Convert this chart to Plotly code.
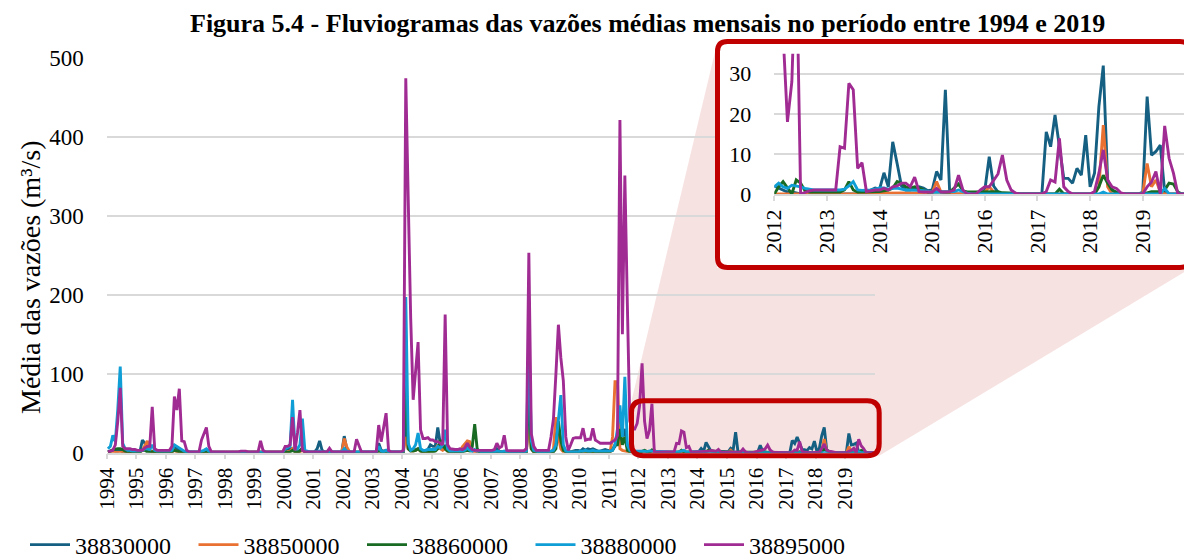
import numpy as np
import plotly.graph_objects as go

# The page body has an 8px margin, so the figure is made 8px smaller and all
# reference pixel positions are shifted by that offset.
PAGE_W, PAGE_H = 1192, 560
OX, OY = 8, 8
W, H = PAGE_W - OX, PAGE_H - OY
FONT = "Liberation Serif"

# ---------------- data (monthly mean flows, m3/s), Jan 1994 .. Dec 2019 ----------------
years = list(range(1994, 2020))
series_names = ["38830000", "38850000", "38860000", "38880000", "38895000"]
colors = ["#156082", "#E97132", "#196B24", "#0F9ED5", "#A02B93"]

q_38830000 = [
    1, 2, 3, 2, 2, 3, 1, 1, 1, 1, 1, 1,                      # 1994
    1, 1, 16, 12, 3, 2, 2, 1, 1, 1, 1, 1,                    # 1995
    1, 1, 3, 8, 5, 3, 1, 1, 0.5, 0.5, 0.5, 0.5,              # 1996
    0.5, 0.5, 0.5, 1, 2, 1, 0.5, 0.5, 0.3, 0.3, 0.3, 0.3,    # 1997
    0.3, 0.3, 0.3, 0.3, 0.3, 0.3, 0.3, 0.3, 0.3, 0.3, 0.3, 0.3,  # 1998
    0.3, 0.3, 0.3, 0.3, 0.3, 0.3, 0.3, 0.3, 0.3, 0.3, 0.3, 0.3,  # 1999
    3, 5, 5, 5, 2, 1, 3, 5, 1, 0.5, 0.5, 0.5,                # 2000
    1, 5, 15, 3, 1, 0.5, 0.5, 0.5, 0.5, 0.5, 0.5, 1,         # 2001
    21, 5, 1, 0.5, 0.5, 0.5, 0.5, 0.5, 0.5, 0.5, 0.5, 0.5,   # 2002
    0.5, 1, 12, 3, 2, 3, 1, 0.5, 0.5, 0.5, 0.5, 0.5,         # 2003
    1, 40, 5, 3, 3, 4, 5, 3, 2, 3, 4, 10,                    # 2004
    8, 8, 32, 12, 5, 8, 3, 2, 2, 2, 2, 2,                    # 2005
    2, 5, 12, 4, 2, 3, 1, 1, 1, 1, 1, 1,                     # 2006
    1, 1, 5, 2, 1, 1, 1, 0.5, 0.5, 0.5, 0.5, 0.5,            # 2007
    0.5, 1, 2, 60, 5, 1, 1, 1, 1, 1, 1, 1,                   # 2008
    1, 2, 10, 30, 15, 5, 2, 1, 1, 2, 3, 3,                   # 2009
    2, 5, 3, 5, 4, 5, 3, 2, 2, 3, 4, 3,                      # 2010
    3, 4, 8, 15, 40, 20, 30, 8, 3, 2, 2, 2,                  # 2011
    2, 1.5, 1, 0.5, 0.5, 0.3, 0, 0, 0, 0, 0, 0,              # 2012
    0, 0, 0, 0, 0, 0, 0, 0, 0, 0.5, 1, 1.5,                  # 2013
    1.2, 5.3, 1.8, 13, 7.6, 2, 1, 1, 1.5, 1.8, 1.5, 0.8,     # 2014
    1, 5.6, 3.5, 26, 0, 0, 0, 0, 0, 0, 0, 0,                 # 2015
    1, 9.3, 2, 0.5, 0, 0, 0, 0, 0, 0, 0, 0,                  # 2016
    0, 0, 15.5, 11.8, 19.7, 11.8, 3.9, 3.9, 2.7, 6.4, 4.7, 14.7,  # 2017
    1.8, 5.2, 21.8, 32, 3.5, 1, 0.5, 0, 0, 0, 0, 0,          # 2018
    0.5, 24.3, 9.7, 10.6, 12.2, 0.6, 0, 0, 0, 0, 0, 0,       # 2019
]

q_38850000 = [
    0.3, 0.3, 0.3, 0.3, 0.3, 0.3, 0.3, 0.3, 0.3, 0.3, 0.3, 0.3,  # 1994
    0.5, 0.5, 3, 10, 15, 3, 1, 0.5, 0.5, 0.5, 0.5, 0.5,          # 1995
    0.5, 0.5, 1, 3, 1, 0.5, 0.5, 0.3, 0.3, 0.3, 0.3, 0.3,        # 1996
    0.2, 0.2, 0.2, 0.2, 0.2, 0.2, 0.2, 0.2, 0.2, 0.2, 0.2, 0.2,  # 1997
    0.2, 0.2, 0.2, 0.2, 0.2, 0.2, 0.2, 0.2, 0.2, 0.2, 0.2, 0.2,  # 1998
    0.2, 0.2, 0.2, 0.2, 0.2, 0.2, 0.2, 0.2, 0.2, 0.2, 0.2, 0.2,  # 1999
    0.5, 1, 2, 5, 1, 0.5, 1, 3, 0.5, 0.3, 0.3, 0.3,              # 2000
    0.5, 0.5, 0.5, 0.5, 0.5, 0.5, 0.5, 0.5, 0.5, 0.5, 0.5, 0.5,  # 2001
    18, 7.6, 2, 0.5, 0.5, 0.5, 0.5, 0.5, 0.5, 0.5, 0.5, 0.5,     # 2002
    0.5, 0.5, 3, 1, 0.5, 1, 0.5, 0.5, 0.5, 0.5, 0.5, 0.5,        # 2003
    0.5, 20, 5, 2, 2, 3, 5, 2, 1, 1, 1, 2,                       # 2004
    2, 3, 10, 5, 3, 5, 2, 1, 1, 1, 1, 1,                         # 2005
    7.6, 12, 15, 14, 3, 1, 0.5, 0.5, 0.5, 0.5, 0.5, 0.5,         # 2006
    0.5, 0.5, 0.5, 0.5, 0.5, 0.5, 0.5, 0.5, 0.5, 0.5, 0.5, 0.5,  # 2007
    0.5, 0.5, 1, 40, 5, 1, 0.5, 0.5, 0.5, 0.5, 0.5, 0.5,         # 2008
    0.5, 5, 45, 20, 5, 1, 0.5, 0.5, 0.5, 0.5, 0.5, 0.5,          # 2009
    0.5, 0.5, 0.5, 0.5, 0.5, 0.5, 0.5, 0.5, 0.5, 0.5, 0.5, 0.5,  # 2010
    1, 20, 90, 90, 5, 3, 2, 1, 0.5, 0.5, 0.5, 0.3,               # 2011
    0, 0, 0, 0, 0, 0, 0, 0, 0, 0, 0, 0,                          # 2012
    0, 0, 0, 0, 0, 0, 0, 0, 0, 0, 0, 0,                          # 2013
    0.2, 0.2, 0.2, 0.2, 0.2, 0.2, 0.2, 0.2, 0.2, 0.2, 0.2, 0.2,  # 2014
    0.3, 3.1, 0.5, 0.3, 0, 0, 0, 0, 0, 0, 0, 0,                  # 2015
    0.5, 1.8, 0.5, 0, 0, 0, 0, 0, 0, 0, 0, 0,                    # 2016
    0, 0, 0, 0, 0, 0, 0, 0, 0, 0, 0, 0,                          # 2017
    0, 0, 1.8, 17.2, 1.8, 0, 0, 0, 0, 0, 0, 0,                   # 2018
    0, 7.6, 1.8, 3.5, 0.5, 0, 0, 0, 0, 0, 0, 0,                  # 2019
]

q_38860000 = [
    1, 2, 4, 5, 5, 5, 4, 2, 1, 1, 1, 1,                          # 1994
    1, 1, 3, 3, 1, 1, 1, 0.5, 0.5, 0.5, 0.5, 0.5,                # 1995
    0.5, 0.5, 1, 3, 2, 1, 0.5, 0.5, 0.3, 0.3, 0.3, 0.3,          # 1996
    0.3, 0.3, 0.3, 0.3, 0.3, 0.3, 0.3, 0.3, 0.3, 0.3, 0.3, 0.3,  # 1997
    0.3, 0.3, 0.3, 0.3, 0.3, 0.3, 0.3, 0.3, 0.3, 0.3, 0.3, 0.3,  # 1998
    0.3, 0.3, 0.3, 0.3, 0.3, 0.3, 0.3, 0.3, 0.3, 0.3, 0.3, 0.3,  # 1999
    0.5, 1, 1, 3, 1, 0.5, 2, 6, 1, 0.5, 0.5, 0.5,                # 2000
    0.5, 0.5, 0.5, 0.5, 0.5, 0.5, 0.5, 0.5, 0.5, 0.5, 0.5, 0.5,  # 2001
    1, 1, 0.5, 0.5, 0.5, 0.5, 0.5, 0.5, 0.5, 0.5, 0.5, 0.5,      # 2002
    0.5, 0.5, 2, 1, 0.5, 1, 0.5, 0.5, 0.5, 0.5, 0.5, 0.5,        # 2003
    0.5, 90, 5, 2, 2, 3, 5, 2, 1, 1, 1, 1,                       # 2004
    1, 2, 5, 16, 10, 5, 2, 1, 1, 1, 1, 1,                        # 2005
    1, 2, 3, 2, 7.6, 36, 5, 1, 0.5, 0.5, 0.5, 0.5,               # 2006
    0.5, 0.5, 0.5, 0.5, 0.5, 0.5, 0.5, 0.5, 0.5, 0.5, 0.5, 0.5,  # 2007
    0.5, 0.5, 1, 80, 5, 1, 0.5, 0.5, 0.5, 0.5, 0.5, 0.5,         # 2008
    0.5, 1, 5, 40, 15, 3, 1, 0.5, 0.5, 0.5, 0.5, 0.5,            # 2009
    1, 2, 1.5, 1.5, 1, 1, 1, 1, 1, 1, 1.5, 1.5,                  # 2010
    1.5, 3, 10, 10, 30, 10, 20, 3, 1, 1, 0.5, 0.5,               # 2011
    0, 1.8, 3.1, 1.4, 0, 3.5, 2.7, 0.8, 0.5, 0.5, 0.5, 0.5,      # 2012
    0.5, 0.5, 0.5, 0.5, 1, 3.1, 1, 0.5, 0.5, 0.5, 0.5, 0.6,      # 2013
    0.6, 0.8, 1, 1.5, 3.1, 2.7, 1.8, 1.4, 1.8, 1.5, 1, 0.5,      # 2014
    0.5, 0.5, 0.5, 0.5, 0.5, 1.5, 2.5, 0.8, 0.5, 0.5, 0.5, 0.5,  # 2015
    0.6, 0.6, 0.6, 0.6, 0.3, 0.3, 0.3, 0.2, 0, 0, 0, 0,          # 2016
    0, 0, 0, 0, 0, 1.2, 0, 0, 0, 0, 0, 0,                        # 2017
    0, 0, 1.8, 4.7, 2.7, 1, 0.3, 0, 0, 0, 0, 0,                  # 2018
    0, 0.3, 0.6, 0.6, 0.6, 1, 2.7, 2.5, 0.5, 0, 0, 0,            # 2019
]

q_38880000 = [
    5, 8, 22, 14, 55, 109, 12, 5, 3, 3, 2, 2,                    # 1994
    2, 2, 3, 5, 5, 4, 10, 3, 2, 2, 2, 2,                         # 1995
    2, 2, 3, 10, 8, 6, 3, 2, 1, 1, 1, 1,                         # 1996
    1, 1, 2, 3, 5, 2, 1, 0.5, 0.5, 0.5, 0.5, 0.5,                # 1997
    0.5, 0.5, 0.5, 0.5, 0.5, 0.5, 0.5, 0.5, 0.5, 0.5, 0.5, 0.5,  # 1998
    0.5, 0.5, 1, 0.5, 0.5, 0.5, 0.5, 0.5, 0.5, 0.5, 0.5, 0.5,    # 1999
    5, 7, 8, 67, 5, 5, 10, 43, 3, 2, 1, 1,                       # 2000
    1, 1, 2, 1, 1, 1, 1, 1, 1, 1, 1, 1,                          # 2001
    5, 2, 1, 1, 1, 1, 1, 1, 1, 1, 1, 1,                          # 2002
    1, 1, 8, 2, 1, 3, 1, 1, 1, 1, 1, 1,                          # 2003
    2, 197, 12, 3, 5, 10, 25, 5, 3, 3, 4, 4,                     # 2004
    4, 4, 8, 6, 10, 29, 5, 2, 2, 2, 2, 2,                        # 2005
    2, 3, 6, 3, 2, 4, 2, 2, 1, 1, 1, 1,                          # 2006
    1, 1, 2, 1, 1, 2, 1, 1, 1, 1, 1, 1,                          # 2007
    1, 1, 2, 150, 15, 3, 2, 1, 1, 1, 1, 1,                       # 2008
    2, 3, 10, 40, 73, 10, 2, 1, 1, 1, 1, 1,                      # 2009
    2, 2, 3, 2, 2, 3, 2, 2, 2, 2, 2, 2,                          # 2010
    2, 3, 10, 30, 60, 20, 96, 10, 3, 2, 2, 2,                    # 2011
    1.8, 2.7, 1.8, 1.4, 2.2, 2, 1.8, 1.4, 1.2, 1, 1, 1,          # 2012
    1, 1, 1, 1, 1.2, 2, 3.1, 1, 0.9, 0.9, 1, 1.2,                # 2013
    1.5, 1.5, 1.2, 1.4, 1.5, 1.2, 1, 1, 1, 0.9, 0.8, 0.6,        # 2014
    0.5, 0.5, 0.5, 0.5, 0.5, 0.6, 1, 0.5, 0.2, 0, 0, 0,          # 2015
    0, 0, 0, 0, 0, 0, 0, 0, 0, 0, 0, 0,                          # 2016
    0, 0, 0, 0, 0, 0, 0, 0, 0, 0, 0, 0,                          # 2017
    0, 0, 0, 0.5, 0, 0, 0, 0, 0, 0, 0, 0,                        # 2018
    0, 0, 0, 0, 0, 1.4, 0, 0, 0, 0, 0, 0,                        # 2019
]

q_38895000 = [
    1, 2, 3, 10, 40, 82, 8, 5, 5, 5, 4, 4,                       # 1994
    3, 3, 3, 6, 8, 8, 58, 5, 3, 3, 3, 3,                         # 1995
    3, 3, 8, 71, 54, 81, 15, 14, 3, 1, 1, 1,                     # 1996
    1, 1, 16, 24, 32, 8, 1, 1, 1, 1, 1, 1,                       # 1997
    1, 1, 1, 1, 1, 1, 2, 2, 2, 1, 1, 1,                          # 1998
    1, 1, 15, 3, 1, 1, 1, 1, 1, 1, 1, 1,                         # 1999
    8, 8, 10, 45, 3, 25, 54, 3, 1, 1, 1, 1,                      # 2000
    1, 1, 1, 1, 1, 1, 5.5, 1, 1, 1, 1, 1,                        # 2001
    1, 1, 1, 1, 1, 17, 10, 1, 1, 1, 1, 1,                        # 2002
    1, 1, 35, 14, 32, 50, 3, 1, 1, 1, 1, 1,                      # 2003
    3, 474, 320, 170, 67, 100, 140, 29, 18, 18, 19, 16,          # 2004
    16, 14, 14, 12, 10, 175, 10, 5, 4, 4, 4, 5,                  # 2005
    4, 6, 12, 7, 4, 3, 3, 3, 3, 3, 3, 3,                         # 2006
    3, 4, 12, 6, 8, 22, 3, 2.5, 2.5, 2.5, 2.5, 2.5,              # 2007
    2.5, 2.5, 5, 253, 24, 8, 3, 3, 3, 3, 3, 3,                   # 2008
    20, 43, 100, 162, 120, 91, 20, 3, 10, 18, 19, 19,            # 2009
    19, 31, 16, 17, 17, 31, 16, 14, 12, 12, 12, 12,              # 2010
    12, 14, 16, 22, 421, 150, 351, 190, 40, 30, 30, 37,          # 2011
    60, 113, 40, 18, 28, 62, 0, 0.5, 0.8, 1, 1, 1,               # 2012
    1, 1, 1, 11.8, 11.4, 27.6, 26, 6.4, 7.8, 0.6, 0.8, 1,        # 2013
    1, 1.4, 1, 1.8, 2, 2.7, 2.7, 1.8, 4.2, 0.6, 0.5, 0.5,        # 2014
    0.5, 1.4, 0.5, 0.5, 0.6, 1, 4.7, 1, 0, 0, 0, 1,              # 2015
    1.8, 1.8, 3.5, 5, 9.7, 3.5, 1, 0.2, 0, 0, 0, 0,              # 2016
    0, 0, 0.6, 3.5, 3, 13.9, 1.8, 0.6, 0, 0, 0, 0,               # 2017
    0, 0.6, 5.2, 11, 3.5, 1.8, 1.4, 0.3, 0, 0, 0, 0,             # 2018
    0, 1.8, 3, 5.6, 0, 17, 8.9, 5.2, 0, 0, 0, 0,                 # 2019
]

series_values = [q_38830000, q_38850000, q_38860000, q_38880000, q_38895000]

main_yticks = [0, 100, 200, 300, 400, 500]
inset_yticks = [0, 10, 20, 30]
inset_first_year = 2012

title_text = "Figura 5.4 - Fluviogramas das vazões médias mensais no período entre 1994 e 2019"
ytitle_text = "Média das vazões (m³/s)"

# ---------------- derived ----------------
n_months = len(q_38830000)
month_idx = np.arange(n_months)
inset_start = (inset_first_year - years[0]) * 12
inset_years = [y for y in years if y >= inset_first_year]


def fx(px):
    return (px - OX) / W


def fy(py):
    return 1 - (py - OY) / H


def rounded_rect_path(x0, y0, x1, y1, r):
    pts = [
        ("M", [(x0 + r, y0)]), ("L", [(x1 - r, y0)]), ("Q", [(x1, y0), (x1, y0 + r)]),
        ("L", [(x1, y1 - r)]), ("Q", [(x1, y1), (x1 - r, y1)]), ("L", [(x0 + r, y1)]),
        ("Q", [(x0, y1), (x0, y1 - r)]), ("L", [(x0, y0 + r)]), ("Q", [(x0, y0), (x0 + r, y0)]),
    ]
    s = ""
    for cmd, ps in pts:
        s += cmd + " " + " ".join("%.5f,%.5f" % (fx(a), fy(b)) for a, b in ps) + " "
    return s + "Z"


def poly_path(points):
    return "M " + " L ".join("%.5f,%.5f" % (fx(a), fy(b)) for a, b in points) + " Z"


fig = go.Figure()

# main chart traces
for name, vals, col in zip(series_names, series_values, colors):
    fig.add_trace(go.Scatter(x=month_idx, y=vals, mode="lines", name=name,
                             line=dict(color=col, width=2.9), xaxis="x", yaxis="y",
                             hoverinfo="skip"))

# empty subplot providing the white inset background
fig.add_trace(go.Scatter(x=[], y=[], xaxis="x2", yaxis="y2", showlegend=False, hoverinfo="skip"))

# inset (zoom 2012-2019)
for name, vals, col in zip(series_names, series_values, colors):
    fig.add_trace(go.Scatter(x=month_idx[inset_start:], y=vals[inset_start:], mode="lines",
                             name=name, showlegend=False,
                             line=dict(color=col, width=2.9), xaxis="x3", yaxis="y3",
                             hoverinfo="skip"))

grid = "#D9D9D9"

fig.update_layout(
    width=W, height=H,
    margin=dict(l=0, r=0, t=0, b=0, pad=0, autoexpand=False),
    paper_bgcolor="white", plot_bgcolor="white",
    showlegend=True,
    xaxis=dict(domain=[fx(106.7), fx(874.7)], anchor="y", range=[-0.5, n_months - 0.5],
               automargin=False,
               tickmode="array", tickvals=[12 * k - 0.5 for k in range(len(years))],
               ticktext=[str(y) for y in years], tickangle=-90,
               ticks="outside", ticklen=5, tickwidth=1.5, tickcolor=grid,
               showline=True, linecolor=grid, linewidth=1.5, showgrid=False, zeroline=False,
               tickfont=dict(family=FONT, size=21, color="black")),
    yaxis=dict(domain=[fy(452.7), fy(57.7)], anchor="x", range=[0, 500],
               automargin=False,
               tickmode="array", tickvals=main_yticks,
               showgrid=True, gridcolor=grid, gridwidth=1.5, zeroline=False,
               showline=False, ticks="", tickfont=dict(family=FONT, size=23, color="black"),
               ticklabelstandoff=22),
    xaxis2=dict(domain=[fx(717), 1.0], anchor="y2", range=[0, 1], visible=False, automargin=False),
    yaxis2=dict(domain=[fy(268), fy(41)], anchor="x2", range=[0, 1], visible=False,
                automargin=False),
    xaxis3=dict(domain=[fx(774.3), fx(1191)], anchor="y3",
                range=[inset_start, n_months - 1], automargin=False,
                tickmode="array", tickvals=[inset_start + 12 * k for k in range(len(inset_years))],
                ticktext=[str(y) for y in inset_years], tickangle=-90,
                ticks="outside", ticklen=5, tickwidth=1.5, tickcolor=grid,
                showline=True, linecolor=grid, linewidth=1.5, showgrid=False, zeroline=False,
                tickfont=dict(family=FONT, size=22, color="black")),
    yaxis3=dict(domain=[fy(194), fy(53.65)], anchor="x3", range=[0, 35],
                automargin=False,
                tickmode="array", tickvals=inset_yticks,
                showgrid=True, gridcolor=grid, gridwidth=1.5, zeroline=False,
                showline=False, ticks="", tickfont=dict(family=FONT, size=22, color="black"),
                ticklabelstandoff=22),
    legend=dict(orientation="h", x=fx(25), xanchor="left", y=fy(545), yanchor="middle",
                font=dict(family=FONT, size=24, color="black"),
                entrywidth=113.5, entrywidthmode="pixels", itemwidth=40,
                bgcolor="rgba(0,0,0,0)", tracegroupgap=0),
    annotations=[
        dict(text="<b>" + title_text + "</b>", x=fx(647.5), y=1.0, xref="paper", yref="paper",
             showarrow=False, xanchor="center", yanchor="top", borderpad=0,
             font=dict(family=FONT, size=26, color="black")),
        dict(text=ytitle_text, x=fx(30), y=fy(277), xref="paper", yref="paper",
             showarrow=False, xanchor="center", yanchor="middle", textangle=-90,
             font=dict(family=FONT, size=28, color="black")),
    ],
    shapes=[
        # pink connector area
        dict(type="path", xref="paper", yref="paper", layer="below",
             path=poly_path([(631.5, 400.8), (717.5, 41.5), (1192, 41.5), (1192, 267.5),
                             (879.2, 455.8), (631.5, 455.8)]),
             fillcolor="rgb(247,226,226)", line=dict(width=0)),
        # red frame around the zoomed region in the main chart
        dict(type="path", xref="paper", yref="paper", layer="above",
             path=rounded_rect_path(631.5, 400.8, 879.2, 455.8, 12),
             fillcolor="rgba(0,0,0,0)", line=dict(color="#C00000", width=5)),
        # red frame around the inset
        dict(type="path", xref="paper", yref="paper", layer="above",
             path=rounded_rect_path(717.5, 41.5, 1190, 267.5, 10),
             fillcolor="rgba(0,0,0,0)", line=dict(color="#C00000", width=5)),
    ],
)

fig.write_html("out.html")
